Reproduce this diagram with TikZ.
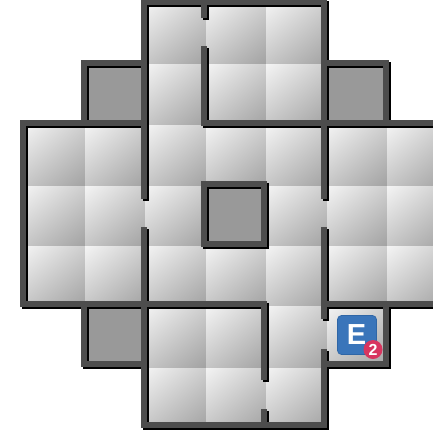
\documentclass[tikz,border=0pt]{standalone}
\usetikzlibrary{shadings}
\usepackage{fontspec}
\setmainfont{Liberation Sans}
\definecolor{wallgray}{HTML}{4D4D4D}
\definecolor{roomgray}{HTML}{999999}
\definecolor{cellul}{HTML}{F4F4F4}
\definecolor{cellur}{HTML}{CECECE}
\definecolor{cellll}{HTML}{C6C6C6}
\definecolor{celllr}{HTML}{A2A2A2}
\definecolor{badgeblue}{HTML}{3A75BA}
\definecolor{badgeedge}{HTML}{2F66A6}
\definecolor{badgered}{HTML}{D8355F}
\tikzset{
  cellbox/.style={shading=bilinear interpolation,upper left=cellul,upper right=cellur,lower left=cellll,lower right=celllr,draw=none},
  roombox/.style={fill=roomgray,draw=none},
  wallpath/.style={line width=5.8pt,line cap=rect,line join=miter}
}
\newcommand{\wallset}[1]{%
  \begin{scope}[shift={#1}]
  \draw[wallpath,draw=\wallcol] (145,3) -- (145,197.5);
  \draw[wallpath,draw=\wallcol] (145,231) -- (145,426);
  \draw[wallpath,draw=\wallcol] (145,3) -- (325,3);
  \draw[wallpath,draw=\wallcol] (205,3) -- (205,16);
  \draw[wallpath,draw=\wallcol] (205,50) -- (205,124) -- (440,124);
  \draw[wallpath,draw=\wallcol] (325,3) -- (325,197.5);
  \draw[wallpath,draw=\wallcol] (325,231) -- (325,317);
  \draw[wallpath,draw=\wallcol] (325,353) -- (325,426) -- (145,426);
  \draw[wallpath,draw=\wallcol] (85,124) -- (85,64) -- (145,64);
  \draw[wallpath,draw=\wallcol] (325,64) -- (387,64) -- (387,124);
  \draw[wallpath,draw=\wallcol] (145,124) -- (24,124) -- (24,305) -- (265,305) -- (265,378);
  \draw[wallpath,draw=\wallcol] (325,305) -- (440,305);
  \draw[wallpath,draw=\wallcol] (85,305) -- (85,365) -- (145,365);
  \draw[wallpath,draw=\wallcol] (387,305) -- (387,365) -- (325,365);
  \draw[wallpath,draw=\wallcol] (265,413) -- (265,426);
  \draw[wallpath,draw=\wallcol] (205,185) rectangle (265,245);
  \end{scope}}
\begin{document}
\begin{tikzpicture}[x=1pt,y=-1pt]
\useasboundingbox (0,0) rectangle (433,437);
\clip (0,0) rectangle (433,437);
% cells
\foreach \xa/\xb in {145/206,206/266,266/327}{
  \foreach \ya/\yb in {3/64,64/125,367/428}{
    \path[cellbox] (\xa,\ya) rectangle (\xb,\yb);
  }
}
\foreach \xa/\xb in {24/85,85/145,145/206,206/266,266/327,327/387,387/447}{
  \foreach \ya/\yb in {125/186,186/246,246/306}{
    \path[cellbox] (\xa,\ya) rectangle (\xb,\yb);
  }
}
\foreach \xa/\xb in {145/206,206/266,266/327,327/387}{
  \path[cellbox] (\xa,306) rectangle (\xb,367);
}
% grey rooms
\path[roombox] (85,64) rectangle (145,124);
\path[roombox] (325,64) rectangle (387,124);
\path[roombox] (205,185) rectangle (265,245);
\path[roombox] (85,305) rectangle (145,365);
% walls: black shadow first, grey on top
\def\wallcol{black}
\wallset{(1,1)}
\def\wallcol{wallgray}
\wallset{(-1,-1)}
% badge
\node[name=badge,draw=badgeedge,line width=0.7pt,fill=badgeblue,rounded corners=4pt,minimum width=39pt,minimum height=39pt,inner sep=0pt] at (357,335) {};
\node[name=letter,text=white,font=\bfseries\fontsize{29}{29}\selectfont,inner sep=0pt] at (356.5,335) {E};
\node[name=dot,circle,fill=badgered,minimum size=19pt,inner sep=0pt] at (373,349.5) {};
\node[name=num,text=white,font=\bfseries\fontsize{16}{16}\selectfont,inner sep=0pt] at (373,349.5) {2};
\end{tikzpicture}
\end{document}
